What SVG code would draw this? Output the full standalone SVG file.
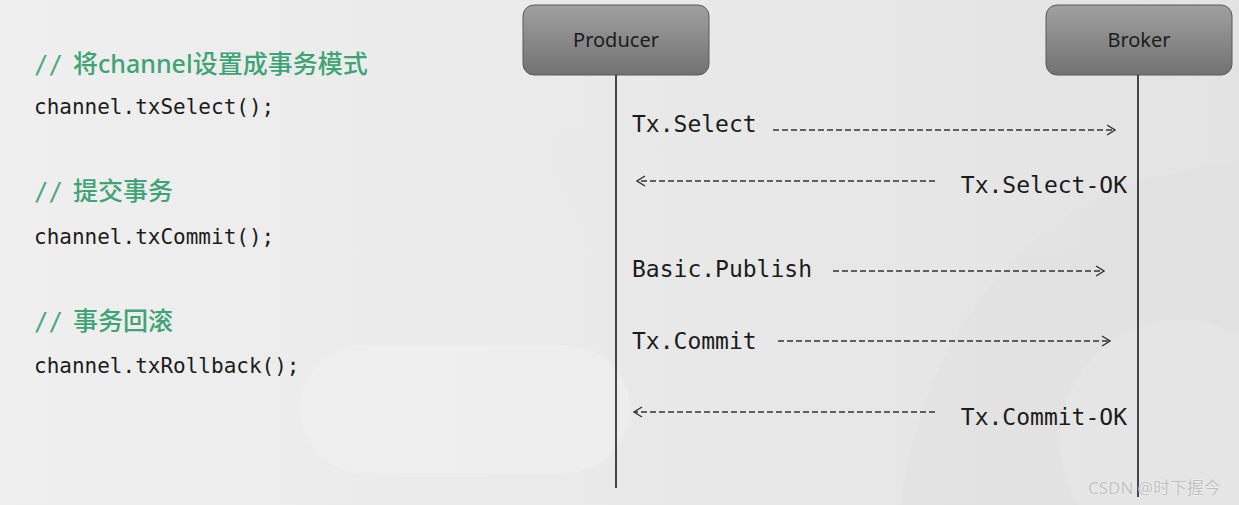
<svg xmlns="http://www.w3.org/2000/svg" width="1239" height="505" viewBox="0 0 1239 505">
<defs>
<linearGradient id="bg" x1="0" y1="0" x2="1" y2="0">
<stop offset="0" stop-color="#efefef"/>
<stop offset="1" stop-color="#e3e3e3"/>
</linearGradient>
<linearGradient id="box" x1="0" y1="0" x2="0" y2="1">
<stop offset="0" stop-color="#a0a0a0"/>
<stop offset="1" stop-color="#727272"/>
</linearGradient>
<marker id="head" viewBox="0 0 10 12" markerWidth="10" markerHeight="12" refX="9" refY="6" orient="auto" markerUnits="userSpaceOnUse">
<path d="M1,1 L9,6 L1,11" fill="none" stroke="#333" stroke-width="1.4"/>
</marker>
<style>
.lbl{font-family:"DejaVu Sans Mono","Liberation Mono",monospace;font-size:23px;fill:#1c1c1c}
.code{font-family:"DejaVu Sans Mono","Liberation Mono",monospace;font-size:21px;fill:#1c1c1c}
.cmt{font-family:"Noto Sans","Noto Sans CJK SC",sans-serif;font-size:25px;fill:#3fa475;font-weight:500}
.sl{font-family:"DejaVu Sans Mono","Liberation Mono",monospace;font-weight:normal;font-size:24px;fill:#4aa97c}
.actor{font-family:"Noto Sans","Open Sans",sans-serif;font-size:20px;fill:#1c1c1c}
.msg{stroke:#333;stroke-width:1.4;stroke-dasharray:6 3;fill:none}
.life{stroke:#1e1e1e;stroke-width:1.6}
</style>
</defs>
<rect width="1239" height="505" fill="url(#bg)"/>
<g opacity="0.45">
<rect x="300" y="345" width="330" height="128" rx="64" fill="#f3f3f3"/>
<path d="M560,130 C640,110 760,200 810,330 C850,430 850,505 850,505 L700,505 C690,420 640,300 590,230 C550,180 540,140 560,130 Z" fill="#e9e9e9"/>
<path d="M900,505 C920,360 1000,230 1140,180 L1239,160 L1239,505 Z" fill="#e0e0e0"/>
<circle cx="1180" cy="440" r="120" fill="#e8e8e8"/>
</g>
<g id="notes">
<text class="cmt" x="34" y="73"><tspan class="sl">//</tspan><tspan x="73">将channel设置成事务模式</tspan></text>
<text class="code" x="34" y="114">channel.txSelect();</text>
<text class="cmt" x="34" y="200"><tspan class="sl">//</tspan><tspan x="73">提交事务</tspan></text>
<text class="code" x="34" y="244">channel.txCommit();</text>
<text class="cmt" x="34" y="330"><tspan class="sl">//</tspan><tspan x="73">事务回滚</tspan></text>
<text class="code" x="34" y="373">channel.txRollback();</text>
</g>
<g id="producer">
<rect x="523" y="5" width="186" height="70" rx="11" fill="url(#box)" stroke="#5a5a5a" stroke-width="1"/>
<text class="actor" x="616" y="47" text-anchor="middle">Producer</text>
</g>
<g id="broker">
<rect x="1046" y="5" width="186" height="70" rx="11" fill="url(#box)" stroke="#5a5a5a" stroke-width="1"/>
<text class="actor" x="1139" y="47" text-anchor="middle">Broker</text>
</g>
<g id="connectors">
<line class="life" x1="616" y1="75" x2="616" y2="488"/>
<line class="life" x1="1138" y1="75" x2="1138" y2="497"/>
<line class="msg" x1="773" y1="130" x2="1115" y2="130" marker-end="url(#head)"/>
<line class="msg" x1="935" y1="181" x2="637" y2="181" marker-end="url(#head)"/>
<line class="msg" x1="833" y1="271" x2="1104" y2="271" marker-end="url(#head)"/>
<line class="msg" x1="778" y1="341" x2="1110" y2="341" marker-end="url(#head)"/>
<line class="msg" x1="935" y1="412" x2="634" y2="412" marker-end="url(#head)"/>
</g>
<g id="labels">
<text class="lbl" x="632" y="132">Tx.Select</text>
<text class="lbl" x="1127" y="193" text-anchor="end">Tx.Select-OK</text>
<text class="lbl" x="632" y="277">Basic.Publish</text>
<text class="lbl" x="632" y="349">Tx.Commit</text>
<text class="lbl" x="1127" y="425" text-anchor="end">Tx.Commit-OK</text>
</g>
<text x="1088" y="494" font-family="Noto Sans,Noto Sans CJK SC,sans-serif" font-size="17" fill="#c0c0c0" stroke="#ffffff" stroke-width="0.6" paint-order="stroke">CSDN @时下握今</text>
</svg>
